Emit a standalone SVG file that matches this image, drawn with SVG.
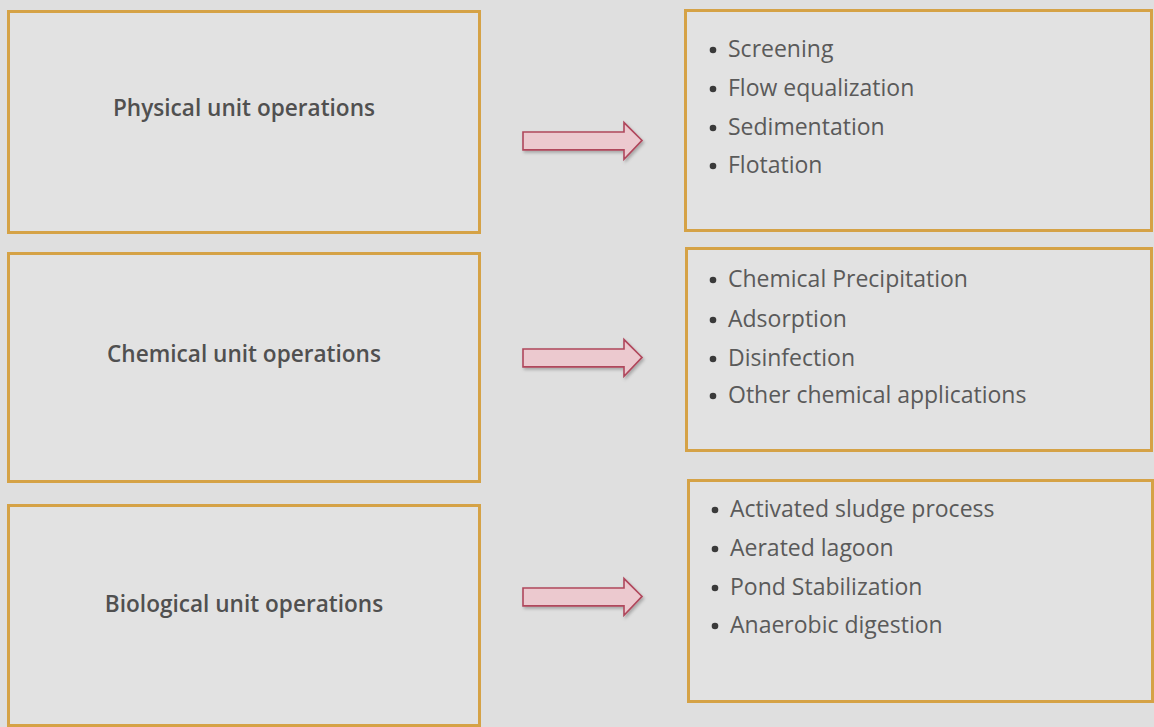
<svg xmlns="http://www.w3.org/2000/svg" width="1154" height="727" viewBox="0 0 1154 727">
  <style>
    .box { fill: #e2e2e2; stroke: #d5a246; stroke-width: 3; }
    .title { font-family: "Open Sans", "Noto Sans", sans-serif; font-size: 22.6px; font-weight: 600; fill: #505050; text-anchor: middle; }
    .item { font-family: "Open Sans", "Noto Sans", sans-serif; font-size: 23px; fill: #5a5a5a; }
    .dot { fill: #3a3a3a; }
    .arrow { fill: #ecc9cf; stroke: #b0475c; stroke-width: 1.6; stroke-linejoin: miter; filter: url(#shadow); }
  </style>
  <defs>
    <filter id="shadow" x="-10%" y="-30%" width="130%" height="180%">
      <feDropShadow dx="1.5" dy="2" stdDeviation="1.5" flood-color="#000" flood-opacity="0.25"/>
    </filter>
    <path id="arrowShape" d="M0,0 H101 V-9 L119,8 L101,26 V17 H0 Z"/>
  </defs>

  <rect width="1154" height="727" fill="#dfdfdf"/>

  <!-- category boxes -->
  <g id="physical">
    <rect class="box" x="8.5" y="11.5" width="471" height="221"/>
    <text class="title" x="244" y="116">Physical unit operations</text>
  </g>
  <g id="chemical">
    <rect class="box" x="8.5" y="253.5" width="471" height="228"/>
    <text class="title" x="244" y="362">Chemical unit operations</text>
  </g>
  <g id="biological">
    <rect class="box" x="8.5" y="505.5" width="471" height="220"/>
    <text class="title" x="244" y="612">Biological unit operations</text>
  </g>

  <!-- process lists -->
  <g id="physical-list">
    <rect class="box" x="685.5" y="10.5" width="466" height="220"/>
    <circle class="dot" cx="713" cy="50" r="3.3"/>
    <text class="item" x="728" y="57">Screening</text>
    <circle class="dot" cx="713" cy="89" r="3.3"/>
    <text class="item" x="728" y="96">Flow equalization</text>
    <circle class="dot" cx="713" cy="128" r="3.3"/>
    <text class="item" x="728" y="135">Sedimentation</text>
    <circle class="dot" cx="713" cy="166" r="3.3"/>
    <text class="item" x="728" y="173">Flotation</text>
  </g>
  <g id="chemical-list">
    <rect class="box" x="686.5" y="248.5" width="465" height="202"/>
    <circle class="dot" cx="713" cy="280" r="3.3"/>
    <text class="item" x="728" y="287">Chemical Precipitation</text>
    <circle class="dot" cx="713" cy="320" r="3.3"/>
    <text class="item" x="728" y="327">Adsorption</text>
    <circle class="dot" cx="713" cy="359" r="3.3"/>
    <text class="item" x="728" y="366">Disinfection</text>
    <circle class="dot" cx="713" cy="396" r="3.3"/>
    <text class="item" x="728" y="403">Other chemical applications</text>
  </g>
  <g id="biological-list">
    <rect class="box" x="688.5" y="480.5" width="464" height="221"/>
    <circle class="dot" cx="715" cy="510" r="3.3"/>
    <text class="item" x="730" y="517">Activated sludge process</text>
    <circle class="dot" cx="715" cy="549" r="3.3"/>
    <text class="item" x="730" y="556">Aerated lagoon</text>
    <circle class="dot" cx="715" cy="588" r="3.3"/>
    <text class="item" x="730" y="595">Pond Stabilization</text>
    <circle class="dot" cx="715" cy="626" r="3.3"/>
    <text class="item" x="730" y="633">Anaerobic digestion</text>
  </g>

  <!-- block arrows -->
  <g id="connectors">
    <use href="#arrowShape" class="arrow" transform="translate(523,132) scale(1,1.05)"/>
    <use href="#arrowShape" class="arrow" transform="translate(523,349) scale(1,1.05)"/>
    <use href="#arrowShape" class="arrow" transform="translate(523,588) scale(1,1.05)"/>
  </g>
</svg>
